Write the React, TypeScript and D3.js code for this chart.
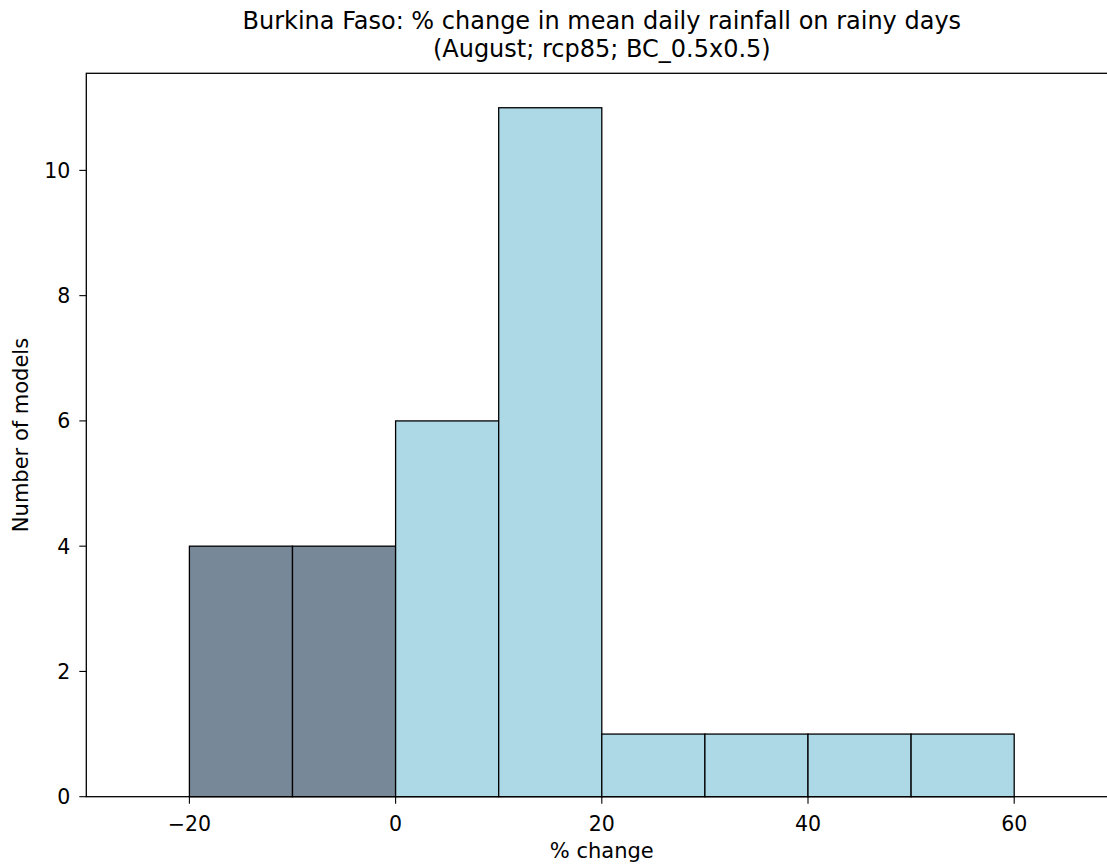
import React from "react";
import * as d3 from "d3";

const binEdges = [-20, -10, 0, 10, 20, 30, 40, 50, 60];
const counts = [4, 4, 6, 11, 1, 1, 1, 1];
const xTicks = [-20, 0, 20, 40, 60];
const yTicks = [0, 2, 4, 6, 8, 10];
const titleLines = [
  "Burkina Faso: % change in mean daily rainfall on rainy days",
  "(August; rcp85; BC_0.5x0.5)",
];

const W = 1107;
const H = 865;
const left = 86.3;
const right = 1117.3;
const top = 73.3;
const bottom = 796.7;
const font = "DejaVu Sans, sans-serif";

export default function App() {
  const x = d3.scaleLinear().domain([-30, 70]).range([left, right]);
  const y = d3.scaleLinear().domain([0, 11.55]).range([bottom, top]);
  const bars = counts.map((c, i) => ({
    x0: binEdges[i],
    x1: binEdges[i + 1],
    c,
  }));
  return (
    <svg
      width={W}
      height={H}
      style={{ position: "absolute", left: 0, top: 0, background: "#fff" }}
      fontFamily={font}
    >
      <rect x={0} y={0} width={W} height={H} fill="#fff" />
      {bars.map((b, i) => (
        <rect
          key={i}
          x={x(b.x0)}
          y={y(b.c)}
          width={x(b.x1) - x(b.x0)}
          height={y(0) - y(b.c)}
          fill={b.x1 <= 0 ? "#778899" : "#add8e6"}
          stroke="#000"
          strokeWidth={1.3}
        />
      ))}
      <rect
        x={left}
        y={top}
        width={right - left}
        height={bottom - top}
        fill="none"
        stroke="#000"
        strokeWidth={1.3}
      />
      {xTicks.map((t) => (
        <g key={t}>
          <line x1={x(t)} x2={x(t)} y1={bottom} y2={bottom + 7} stroke="#000" strokeWidth={1.1} />
          <text x={x(t)} y={830.5} textAnchor="middle" fontSize={20.5} fill="#000">
            {t < 0 ? "\u2212" + Math.abs(t) : t}
          </text>
        </g>
      ))}
      {yTicks.map((t) => (
        <g key={t}>
          <line x1={left - 7} x2={left} y1={y(t)} y2={y(t)} stroke="#000" strokeWidth={1.1} />
          <text x={left - 16} y={y(t) + 7.5} textAnchor="end" fontSize={20.5} fill="#000">
            {t}
          </text>
        </g>
      ))}
      <text x={(left + right) / 2} y={858} textAnchor="middle" fontSize={21} fill="#000">
        % change
      </text>
      <text
        transform={`translate(28, ${(top + bottom) / 2}) rotate(-90)`}
        textAnchor="middle"
        fontSize={21}
        fill="#000"
      >
        Number of models
      </text>
      {titleLines.map((l, i) => (
        <text key={i} x={(left + right) / 2} y={29 + i * 28} textAnchor="middle" fontSize={24} fill="#000">
          {l}
        </text>
      ))}
    </svg>
  );
}
